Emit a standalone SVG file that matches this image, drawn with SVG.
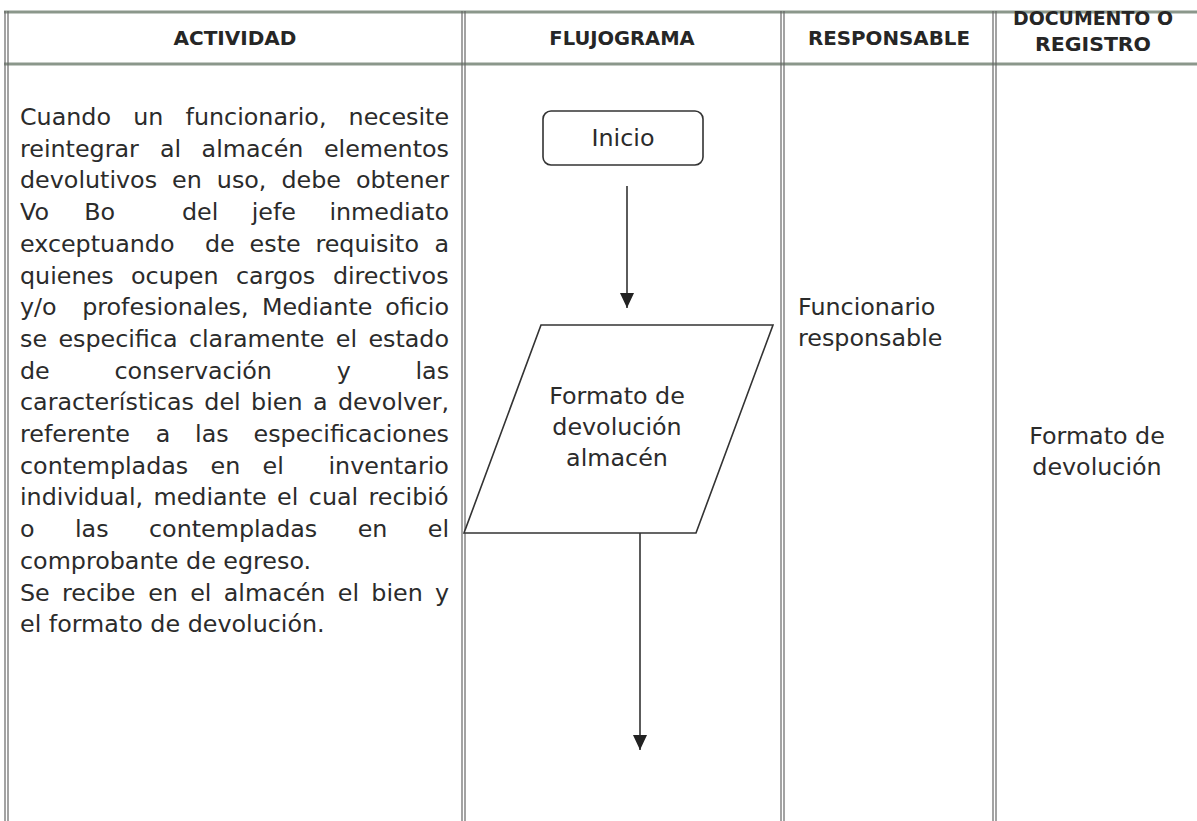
<svg xmlns="http://www.w3.org/2000/svg" width="1197" height="821" viewBox="0 0 1197 821">
<style>
.hd{font-family:"DejaVu Sans",Verdana,sans-serif;font-weight:bold;font-size:19.5px;fill:#262626;text-anchor:middle}
.tx{font-family:"DejaVu Sans",Verdana,sans-serif;font-size:23.8px;fill:#2b2b2b}
.ct{text-anchor:middle}
.hl{stroke:#8b978b;stroke-width:3;fill:none}
.vl{stroke:#666;stroke-width:1.2;fill:none}
.sh{stroke:#333;stroke-width:1.6;fill:#fff}
.cn{stroke:#333;stroke-width:1.6;fill:none}
</style>
<defs>
<marker id="ah" markerWidth="15" markerHeight="14" refX="15" refY="7" orient="auto" markerUnits="userSpaceOnUse" viewBox="0 0 15 14">
<path d="M0,0 L15,7 L0,14 Z" fill="#222"/>
</marker>
</defs>
<rect width="1197" height="821" fill="#fff"/>
<g id="table">
<line class="hl" x1="4" y1="12" x2="1197" y2="12"/>
<line class="hl" x1="4" y1="64" x2="1197" y2="64"/>
<line class="vl" x1="5" y1="11" x2="5" y2="821"/>
<line class="vl" x1="8" y1="11" x2="8" y2="821"/>
<line class="vl" x1="462" y1="11" x2="462" y2="821"/>
<line class="vl" x1="465" y1="11" x2="465" y2="821"/>
<line class="vl" x1="781" y1="11" x2="781" y2="821"/>
<line class="vl" x1="784" y1="11" x2="784" y2="821"/>
<line class="vl" x1="993" y1="11" x2="993" y2="821"/>
<line class="vl" x1="996" y1="11" x2="996" y2="821"/>
</g>
<g id="headers">
<text class="hd" x="235" y="45" textLength="123" lengthAdjust="spacingAndGlyphs">ACTIVIDAD</text>
<text class="hd" x="622" y="45">FLUJOGRAMA</text>
<text class="hd" x="889" y="45" textLength="162" lengthAdjust="spacingAndGlyphs">RESPONSABLE</text>
<text class="hd" x="1093" y="25" textLength="160" lengthAdjust="spacingAndGlyphs">DOCUMENTO O</text>
<text class="hd" x="1093" y="51" textLength="116" lengthAdjust="spacingAndGlyphs">REGISTRO</text>
</g>
<g id="actividad" class="tx">
<text y="125"><tspan x="20">Cuando</tspan><tspan x="133.2">un</tspan><tspan x="185.5">funcionario,</tspan><tspan x="348.6">necesite</tspan></text>
<text y="156.7"><tspan x="20">reintegrar</tspan><tspan x="159.9">al</tspan><tspan x="201.6">almacén</tspan><tspan x="323.9">elementos</tspan></text>
<text y="188.4"><tspan x="20">devolutivos</tspan><tspan x="172.1">en</tspan><tspan x="216.8">uso,</tspan><tspan x="281.4">debe</tspan><tspan x="355.9">obtener</tspan></text>
<text y="220.1"><tspan x="20">Vo</tspan><tspan x="84.2">Bo</tspan><tspan x="181.9">del</tspan><tspan x="251.7">jefe</tspan><tspan x="329.4">inmediato</tspan></text>
<text y="251.8"><tspan x="20">exceptuando</tspan><tspan x="205">de</tspan><tspan x="249.6">este</tspan><tspan x="315.4">requisito</tspan><tspan x="434.4">a</tspan></text>
<text y="283.5"><tspan x="20">quienes</tspan><tspan x="131">ocupen</tspan><tspan x="236">cargos</tspan><tspan x="332.9">directivos</tspan></text>
<text y="315.2"><tspan x="20">y/o</tspan><tspan x="82.2">profesionales,</tspan><tspan x="261.9">Mediante</tspan><tspan x="385.2">oficio</tspan></text>
<text y="346.9"><tspan x="20">se</tspan><tspan x="58.4">especifica</tspan><tspan x="188.9">claramente</tspan><tspan x="335.8">el</tspan><tspan x="368.4">estado</tspan></text>
<text y="378.6"><tspan x="20">de</tspan><tspan x="114.4">conservación</tspan><tspan x="336.7">y</tspan><tspan x="415.5">las</tspan></text>
<text y="410.3"><tspan x="20">características</tspan><tspan x="204.3">del</tspan><tspan x="251.1">bien</tspan><tspan x="313">a</tspan><tspan x="338">devolver,</tspan></text>
<text y="442"><tspan x="20">referente</tspan><tspan x="155.7">a</tspan><tspan x="195.1">las</tspan><tspan x="253.5">especificaciones</tspan></text>
<text y="473.7"><tspan x="20">contempladas</tspan><tspan x="210.6">en</tspan><tspan x="262.6">el</tspan><tspan x="328.5">inventario</tspan></text>
<text y="505.4"><tspan x="20">individual,</tspan><tspan x="153.5">mediante</tspan><tspan x="277.1">el</tspan><tspan x="308.8">cual</tspan><tspan x="368.6">recibió</tspan></text>
<text y="537.1"><tspan x="20">o</tspan><tspan x="75">las</tspan><tspan x="149">contempladas</tspan><tspan x="357.7">en</tspan><tspan x="427.8">el</tspan></text>
<text y="568.8" x="20">comprobante de egreso.</text>
<text y="600.5"><tspan x="20">Se</tspan><tspan x="62">recibe</tspan><tspan x="148.2">en</tspan><tspan x="190.2">el</tspan><tspan x="223.7">almacén</tspan><tspan x="337.8">el</tspan><tspan x="371.3">bien</tspan><tspan x="435">y</tspan></text>
<text y="632.2" x="20">el formato de devolución.</text>
</g>
<g id="connectors">
<line class="cn" x1="627" y1="186" x2="627" y2="308" marker-end="url(#ah)"/>
<line class="cn" x1="640" y1="533" x2="640" y2="750" marker-end="url(#ah)"/>
</g>
<g id="inicio">
<rect class="sh" x="543" y="111" width="160" height="54" rx="8"/>
<text class="tx ct" x="623" y="146">Inicio</text>
</g>
<g id="formato">
<polygon class="sh" points="541,325 773,325 696,533 464,533"/>
<text class="tx ct" x="617" y="404">Formato de</text>
<text class="tx ct" x="617" y="435">devolución</text>
<text class="tx ct" x="617" y="466">almacén</text>
</g>
<g id="responsable">
<text class="tx" x="798" y="315">Funcionario</text>
<text class="tx" x="798" y="346">responsable</text>
</g>
<g id="documento">
<text class="tx ct" x="1097" y="444">Formato de</text>
<text class="tx ct" x="1097" y="475">devolución</text>
</g>
</svg>
